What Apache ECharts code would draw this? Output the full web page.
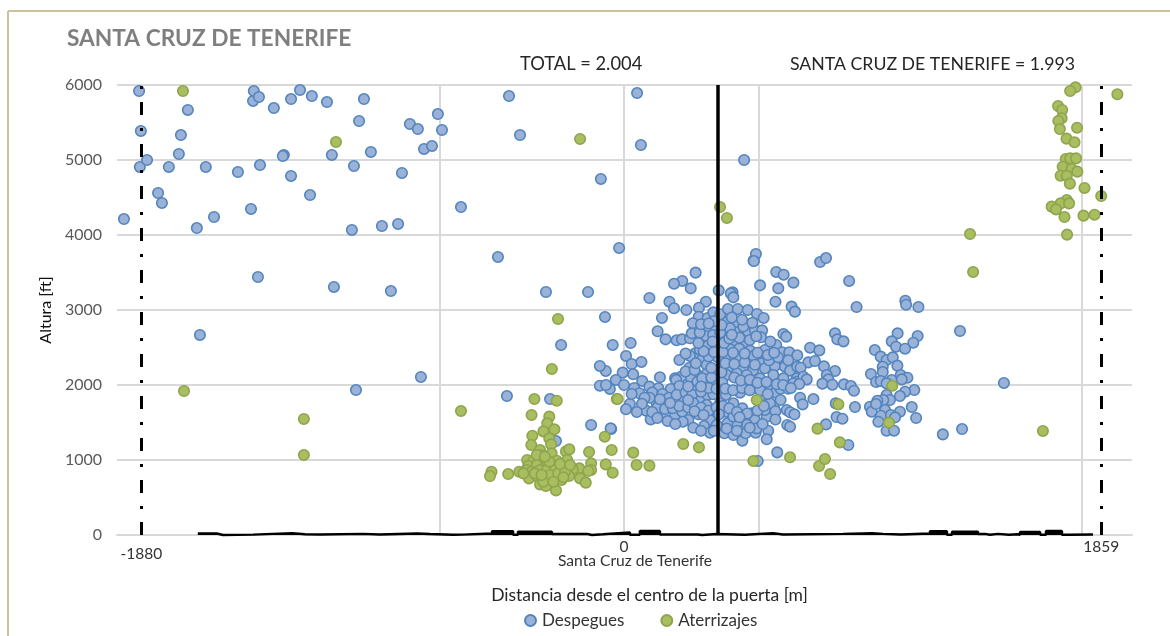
<!DOCTYPE html>
<html><head><meta charset="utf-8">
<style>html,body{margin:0;padding:0;background:#fff}#c{width:1170px;height:636px}</style>
<script src="https://cdn.jsdelivr.net/npm/echarts@6/dist/echarts.min.js"></script>
</head><body><div id="c"></div>
<script>
const despegues = [
[-1948,4213],[-1889,5920],[-1882,5387],[-1886,4907],[-1858,5000],[-1815,4560],[-1800,4427],[-1773,4907],[-1734,5080],[-1726,5333],[-1699,5667],[-1664,4093],[-1629,4907],[-1597,4240],[-1504,4840],[-1453,4347],[-1445,5787],[-1442,5920],[-1422,5840],[-1418,4933],[-1426,3440],[-1652,2667],[-1364,5693],[-1325,5067],[-1329,5053],[-1297,5813],[-1297,4787],[-1262,5933],[-1223,4533],[-1216,5853],[-1157,5773],[-1138,5067],[-1130,3307],[-1060,4067],[-1052,4920],[-1044,1933],[-1032,5520],[-1013,5813],[-986,5107],[-943,4120],[-908,3253],[-880,4147],[-865,4827],[-834,5480],[-803,5413],[-791,2107],[-779,5147],[-748,5187],[-725,5613],[-709,5400],[-635,4373],[-491,3707],[-448,5853],[-456,1853],[-405,5333],[-304,3240],[-288,1813],[-265,1253],[-128,1467],[-50,1413],[-140,3240],[-90,4747],[-245,2533],[51,5893],[66,5200],[468,5000],[-19,3827],
[279,3498],[227,3387],[195,3351],[260,3289],[99,3160],[177,3111],[195,3023],[243,3000],[319,3111],[292,3031],[369,3262],[423,3236],[416,3222],[426,3169],[530,3329],[505,3658],[593,3507],[622,3471],[660,3365],[601,3289],[590,3111],[653,3045],[666,2978],[-74,2907],[148,2894],[291,2911],[326,2894],[348,2969],[375,2943],[405,3014],[443,3014],[482,3000],[518,2947],[544,2894],[268,2823],[401,2836],[432,2809],[131,2716],[162,2609],[205,2596],[226,2609],[257,2623],[264,2689],[300,2623],[331,2743],[358,2756],[319,2654],[347,2667],[394,2636],[440,2703],[413,2756],[469,2680],[483,2716],[510,2729],[538,2729],[534,2636],[621,2680],[632,2645],[-44,2534],[26,2560],[432,2583],[326,2520],[362,2543],[466,2520],[593,2534],[413,2476],[449,2485],[491,2458],[549,2467],[616,2436],[644,2436],[675,2396],[8,2387],[30,2280],[68,2307],[216,2334],[277,2423],[257,2387],[296,2467],[365,2369],[420,2343],[394,2356],[452,2369],[536,2334],[505,2387],[595,2280],[303,2334],[255,2231],[322,2267],[374,2223],[413,2223],[465,2231],[535,2289],[503,2196],[549,2223],[588,2254],[627,2245],[647,2192],[675,2245],[439,2156],[400,2134],[355,2156],[322,2147],[283,2147],[257,2111],[222,2111],[199,2089],[140,2103],[36,2143],[-5,2165],[-71,2187],[-32,2067],[71,2054],[-94,2254],[478,2134],[530,2089],[582,2134],[621,2089],[673,2089],
[-55,1947],[-94,1991],[99,1978],[134,1956],[203,2067],[286,2044],[368,2089],[345,2031],[383,2031],[569,1987],[673,2044],[182,1947],[216,1987],[264,1933],[296,1822],[229,1831],[195,1791],[162,1778],[127,1756],[118,1853],[144,1658],[86,1658],[104,1542],[23,1747],[8,1676],[-52,1422],[166,1600],[199,1600],[227,1644],[251,1533],[229,1511],[290,1609],[348,1658],[325,1867],[348,1876],[397,1867],[452,1898],[517,1978],[591,1898],[497,1622],[461,1689],[426,1756],[374,1756],[322,1733],[420,1600],[397,1644],[465,1533],[510,1533],[556,1578],[439,1489],[403,1489],[335,1533],[312,1453],[335,1364],[391,1356],[426,1333],[461,1258],[474,1356],[513,1364],[517,1422],[562,1391],[556,1276],[634,1667],[647,1636],[636,1467],[647,1444],[597,1102],[521,987],[584,1711],[549,1667],[543,1867],[569,1756],[361,1467],[426,1578],
[906,3040],[1096,3124],[1099,3071],[1147,3040],[822,2689],[831,2609],[855,2582],[1066,2689],[1144,2653],[1043,2582],[1127,2564],[1060,2511],[1095,2484],[977,2466],[725,2497],[761,2462],[1000,2378],[1023,2333],[1047,2369],[718,2302],[744,2320],[688,2231],[779,2249],[822,2186],[790,2133],[1008,2244],[1065,2258],[1008,2173],[962,2146],[1078,2133],[1104,2097],[699,2111],[712,2075],[796,2075],[1043,2066],[1082,2075],[982,2040],[1000,2053],[1023,2022],[660,2022],[683,2013],[773,2018],[812,2004],[857,2009],[884,1986],[896,1924],[1131,1933],[1095,1911],[1075,1853],[1023,1866],[1036,1800],[1010,1800],[987,1791],[686,1831],[738,1813],[696,1742],[825,1755],[900,1706],[958,1711],[965,1644],[982,1746],[1121,1706],[1075,1644],[1017,1666],[1001,1591],[1040,1600],[1056,1569],[1138,1560],[828,1573],[851,1551],[664,1609],[991,1511],[787,1475],[1023,1391],[1052,1391],[1242,1342],[874,1200],
[1317,1413],[1309,2720],[1480,2027],[764,3640],[787,3693],[877,3387],[514,3747],[506,3653],
[110,1900],[150,1880],[175,1830],[205,1870],[240,1900],[265,1870],[300,1910],[330,1960],[360,1950],[395,1950],[425,1930],[460,1960],[490,1930],[530,1930],[560,1880],[610,1950],[640,1950],
[130,1700],[160,1680],[190,1690],[215,1720],[250,1700],[270,1760],[300,1700],[330,1660],[360,1700],[385,1720],[410,1690],[440,1640],[480,1620],[520,1660],[545,1720],[590,1650],[610,1800],
[100,1830],[140,1810],[180,1760],[250,1800],[275,1650],[310,1600],[370,1610],[450,1570],[480,1470],[540,1480],[590,1540],
[240,2180],[275,2200],[305,2090],[340,2100],[380,2170],[430,2100],[455,2060],[490,2070],[520,2030],[555,2040],[595,2010],[620,2000],[650,1960],[300,1980],[250,1980],[340,2230],[395,2290],[430,2280],[470,2300],[510,2270],[565,2330],[600,2370],[640,2330],[280,2290],[240,2420],[330,2380],[350,2440],[385,2440],[425,2430],[470,2420],[520,2430],[560,2400],[585,2430],[310,2450],[345,2580],[390,2560],[410,2620],[450,2630],[490,2600],[515,2650],[570,2580],[290,2560],[375,2700],[420,2670],[295,2700],[380,2800],[465,2780],[500,2830],[350,2850],[420,2900],[300,2810],[330,2820],[460,2870],[-70,2000],[0,2000],[40,1960],[60,1890],[80,1830],[30,1880],[70,1750],[50,1640],[110,1640],[130,1560],[170,1520],[200,1480],[270,1430],[350,1390],[300,1390],[400,1420],[440,1390],[490,1430]
];
const aterrizajes = [
[1759,5969],[1738,5920],[1922,5876],[1691,5720],[1707,5667],[1705,5556],[1692,5520],[1698,5413],[1765,5431],[1724,5285],[1755,5236],[1721,5013],[1738,5022],[1761,5022],[1709,4911],[1744,4880],[1766,4845],[1701,4791],[1725,4791],[1737,4685],[1794,4627],[1859,4520],[1725,4467],[1701,4422],[1734,4422],[1666,4378],[1683,4342],[1716,4240],[1790,4258],[1833,4271],[1726,4005],
[-516,844],[-522,786],[-451,813],[-408,844],[-349,1813],[-262,1791],[-28,1813],[-360,1600],[-291,1578],[-299,1489],[-271,1409],[-314,1382],[-357,1324],[-291,1289],[-361,1200],[-284,1209],[-327,1133],[-226,1115],[-213,1142],[-136,1106],[-48,1133],[-75,1311],[-325,1062],[-282,1089],[-221,1000],[-377,1000],[-353,991],[-321,978],[-262,991],[-128,955],[-71,942],[-44,831],[-128,867],[-174,889],[-200,875],[-373,920],[-340,933],[-299,933],[-269,920],[-379,867],[-360,844],[-327,867],[-299,875],[-269,867],[-243,889],[-214,786],[-370,755],[-340,786],[-308,755],[-275,778],[-243,733],[-171,755],[-149,698],[-327,675],[-304,653],[-265,595],[-347,822],[-288,800],[-256,822],[-230,844],[-314,711],[-275,711],[-291,978],[-340,1067],[-308,1044],[-249,946],[-236,769],[-321,800],[-392,822],[-210,933],[-139,853],
[-1718,5920],[-1122,5240],[-1714,1920],[-1247,1547],[-1247,1067],[-635,1653],[-171,5280],[-257,2880],[-281,2213],[-25,1813],[517,1800],[36,1098],[49,933],[99,925],[231,1213],[292,1169],[504,987],[647,1036],[835,1742],[754,1418],[841,1235],[1045,1991],[1032,1498],[374,4373],[401,4227],[760,920],[783,1013],[803,813],[1348,4013],[1360,3507],[1632,1387]
];
const histEdges = [-1660,-1586,-1562,-1445,-1438,-1293,-1243,-1184,-1017,-951,-806,-756,-666,-631,-514,-432,-413,-281,-144,-125,-82,23,62,140,288,304,362,471,581,619,853,966,1009,1079,1192,1258,1278,1379,1406,1426,1457,1500,1535,1543,1621,1644,1706,1734,1827];
const histHeights = [20,0,5,0,25,10,8,15,8,20,12,2,5,20,50,5,45,15,0,10,35,5,55,8,0,12,3,25,8,15,25,15,8,20,50,3,45,15,3,15,3,10,3,40,3,55,3,8,0];
const verticalGrid = [-717,0,526,1784];
const gateCentre = [366];
const gateLimits = [-1880,1859];
const xTicks = [-1880,0,1859];
const yTicks = [0,1000,2000,3000,4000,5000,6000];

const FONT = 'Lato';
const chart = echarts.init(document.getElementById('c'), null, {renderer:'canvas'});
const vline = (v) => ({xAxis:v});
chart.setOption({
  animation:false,
  backgroundColor:'#fff',
  textStyle:{fontFamily:FONT},
  grid:{left:117,top:85,width:1015,height:450,containLabel:false},
  xAxis:{type:'value',min:-1975,max:1979,
    name:'Distancia desde el centro de la puerta [m]',nameLocation:'middle',nameGap:51,
    nameTextStyle:{fontFamily:FONT,fontSize:17.5,color:'#262626',padding:[0,0,0,50]},
    axisLine:{show:true,onZero:false,lineStyle:{color:'#D9D9D9',width:2}},
    axisTick:{show:false},splitLine:{show:false},
    axisLabel:{customValues:xTicks,color:'#333',fontSize:15.5,margin:4,hideOverlap:false,
      formatter:(v)=> v===-1880 ? '{low|'+v+'}' : String(v),
      rich:{low:{fontFamily:FONT,fontSize:15.5,color:'#333',padding:[7,0,0,0]}}}
  },
  yAxis:{type:'value',min:0,max:6000,interval:1000,
    name:'Altura [ft]',nameLocation:'middle',nameGap:55,nameRotate:90,
    nameTextStyle:{fontFamily:FONT,fontSize:16,color:'#111'},
    axisLine:{show:true,lineStyle:{color:'#D9D9D9',width:2}},axisTick:{show:false},
    splitLine:{show:true,lineStyle:{color:'#D9D9D9',width:2}},
    axisLabel:{color:'#595959',fontSize:16,margin:15,customValues:yTicks,formatter:(v)=>String(v)}
  },
  legend:{data:['Despegues','Aterrizajes'],left:519,top:607,itemWidth:11,itemHeight:11,itemGap:36,icon:'circle',
    textStyle:{fontFamily:FONT,fontSize:17,color:'#333',padding:[0,0,0,1]}},
  series:[
    {name:'Histograma',type:'line',step:'end',symbol:'none',z:1,silent:true,clip:false,
     data:histEdges.map((x,i)=>[x,histHeights[i]]),
     lineStyle:{color:'#000',width:2.5},areaStyle:{color:'#000',opacity:1},
     markLine:{silent:true,symbol:'none',label:{show:false},animation:false,z:0,
       lineStyle:{color:'#D9D9D9',width:2,type:'solid'},
       data:verticalGrid.map(vline)}},
    {name:'Centro',type:'line',symbol:'none',z:2,silent:true,data:[],
     markLine:{silent:true,symbol:'none',label:{show:false},animation:false,
       lineStyle:{color:'#000',width:3.5,type:'solid'},data:gateCentre.map(vline)}},
    {name:'Limites',type:'line',symbol:'none',z:2,silent:true,data:[],
     markLine:{silent:true,symbol:'none',label:{show:false},animation:false,
       lineStyle:{color:'#000',width:3,type:[13,13,3,13],cap:'butt'},data:gateLimits.map(vline)}},
    {name:'Despegues',type:'scatter',z:3,clip:false,symbol:'circle',symbolSize:10.5,data:despegues,
     itemStyle:{color:'#9AB2D8',borderColor:'#5284BE',borderWidth:1.6,opacity:1}},
    {name:'Aterrizajes',type:'scatter',z:4,clip:false,symbol:'circle',symbolSize:10.5,data:aterrizajes,
     itemStyle:{color:'#A9BE5F',borderColor:'#8FA44F',borderWidth:1.6,opacity:1}}
  ],
  graphic:[
    {type:'line',shape:{x1:8,y1:11,x2:1170,y2:11},style:{stroke:'#C9C39C',lineWidth:2},silent:true},
    {type:'line',shape:{x1:8,y1:11,x2:8,y2:636},style:{stroke:'#C9C39C',lineWidth:2},silent:true},
    {type:'text',left:67,top:27,style:{text:'SANTA CRUZ DE TENERIFE',fill:'#7F7F7F',font:'bold 22.7px '+FONT}},
    {type:'text',left:520,top:55,style:{text:'TOTAL = 2.004',fill:'#262626',font:'18.3px '+FONT}},
    {type:'text',left:790,top:55,style:{text:'SANTA CRUZ DE TENERIFE = 1.993',fill:'#262626',font:'17.7px '+FONT}},
    {type:'text',left:558,top:553,style:{text:'Santa Cruz de Tenerife',fill:'#333',font:'15.6px '+FONT}}
  ]
});
</script></body></html>
